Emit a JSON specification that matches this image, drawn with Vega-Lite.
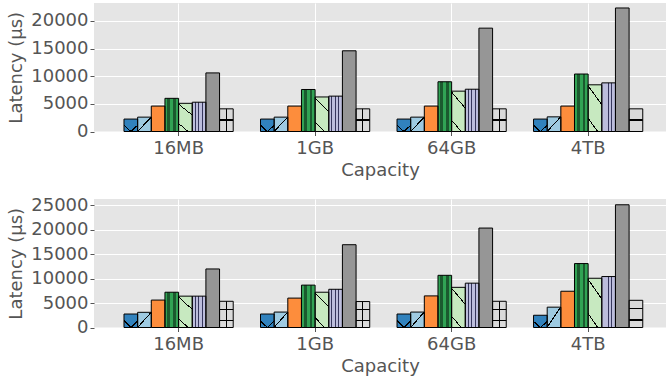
{
  "$schema": "https://vega.github.io/schema/vega-lite/v6.json",
  "padding": {"left": 7, "top": 3, "right": 0, "bottom": 0},
  "spacing": 16,
  "datasets": {
    "top": [
      {"capacity": "16MB", "series": "S1", "latency": 2250},
      {"capacity": "16MB", "series": "S2", "latency": 2600},
      {"capacity": "16MB", "series": "S3", "latency": 4600},
      {"capacity": "16MB", "series": "S4", "latency": 6000},
      {"capacity": "16MB", "series": "S5", "latency": 5100},
      {"capacity": "16MB", "series": "S6", "latency": 5300},
      {"capacity": "16MB", "series": "S7", "latency": 10600},
      {"capacity": "16MB", "series": "S8", "latency": 4100},
      {"capacity": "1GB", "series": "S1", "latency": 2250},
      {"capacity": "1GB", "series": "S2", "latency": 2600},
      {"capacity": "1GB", "series": "S3", "latency": 4600},
      {"capacity": "1GB", "series": "S4", "latency": 7600},
      {"capacity": "1GB", "series": "S5", "latency": 6250},
      {"capacity": "1GB", "series": "S6", "latency": 6400},
      {"capacity": "1GB", "series": "S7", "latency": 14600},
      {"capacity": "1GB", "series": "S8", "latency": 4100},
      {"capacity": "64GB", "series": "S1", "latency": 2250},
      {"capacity": "64GB", "series": "S2", "latency": 2600},
      {"capacity": "64GB", "series": "S3", "latency": 4600},
      {"capacity": "64GB", "series": "S4", "latency": 9000},
      {"capacity": "64GB", "series": "S5", "latency": 7300},
      {"capacity": "64GB", "series": "S6", "latency": 7650},
      {"capacity": "64GB", "series": "S7", "latency": 18700},
      {"capacity": "64GB", "series": "S8", "latency": 4100},
      {"capacity": "4TB", "series": "S1", "latency": 2250},
      {"capacity": "4TB", "series": "S2", "latency": 2650},
      {"capacity": "4TB", "series": "S3", "latency": 4600},
      {"capacity": "4TB", "series": "S4", "latency": 10400},
      {"capacity": "4TB", "series": "S5", "latency": 8450},
      {"capacity": "4TB", "series": "S6", "latency": 8800},
      {"capacity": "4TB", "series": "S7", "latency": 22350},
      {"capacity": "4TB", "series": "S8", "latency": 4100}
    ],
    "bottom": [
      {"capacity": "16MB", "series": "S1", "latency": 2750},
      {"capacity": "16MB", "series": "S2", "latency": 3100},
      {"capacity": "16MB", "series": "S3", "latency": 5600},
      {"capacity": "16MB", "series": "S4", "latency": 7200},
      {"capacity": "16MB", "series": "S5", "latency": 6400},
      {"capacity": "16MB", "series": "S6", "latency": 6400},
      {"capacity": "16MB", "series": "S7", "latency": 11950},
      {"capacity": "16MB", "series": "S8", "latency": 5350},
      {"capacity": "1GB", "series": "S1", "latency": 2750},
      {"capacity": "1GB", "series": "S2", "latency": 3150},
      {"capacity": "1GB", "series": "S3", "latency": 6000},
      {"capacity": "1GB", "series": "S4", "latency": 8650},
      {"capacity": "1GB", "series": "S5", "latency": 7200},
      {"capacity": "1GB", "series": "S6", "latency": 7800},
      {"capacity": "1GB", "series": "S7", "latency": 16900},
      {"capacity": "1GB", "series": "S8", "latency": 5300},
      {"capacity": "64GB", "series": "S1", "latency": 2750},
      {"capacity": "64GB", "series": "S2", "latency": 3150},
      {"capacity": "64GB", "series": "S3", "latency": 6450},
      {"capacity": "64GB", "series": "S4", "latency": 10650},
      {"capacity": "64GB", "series": "S5", "latency": 8200},
      {"capacity": "64GB", "series": "S6", "latency": 9050},
      {"capacity": "64GB", "series": "S7", "latency": 20300},
      {"capacity": "64GB", "series": "S8", "latency": 5350},
      {"capacity": "4TB", "series": "S1", "latency": 2500},
      {"capacity": "4TB", "series": "S2", "latency": 4150},
      {"capacity": "4TB", "series": "S3", "latency": 7400},
      {"capacity": "4TB", "series": "S4", "latency": 13050},
      {"capacity": "4TB", "series": "S5", "latency": 10050},
      {"capacity": "4TB", "series": "S6", "latency": 10400},
      {"capacity": "4TB", "series": "S7", "latency": 25050},
      {"capacity": "4TB", "series": "S8", "latency": 5550}
    ]
  },
  "vconcat": [
    {
      "width": 572,
      "height": 128.5,
      "data": {"name": "top"},
      "encoding": {
        "x": {"field": "capacity", "type": "nominal", "sort": ["16MB", "1GB", "64GB", "4TB"], "title": "Capacity",
              "scale": {"paddingInner": 0, "paddingOuter": 0.095, "align": 0.63},
              "axis": {"labelAngle": 0, "grid": true, "labelPadding": 4, "titlePadding": 4}},
        "xOffset": {"field": "series", "type": "nominal", "scale": {"paddingInner": 0, "paddingOuter": 1.29}},
        "y": {"field": "latency", "type": "quantitative", "title": "Latency (μs)",
              "scale": {"domain": [0, 23250], "nice": false},
              "axis": {"values": [0, 5000, 10000, 15000, 20000], "format": "d", "labelPadding": 2, "titlePadding": 5}}
      },
      "layer": [
        {"mark": {"type": "bar"},
         "encoding": {"fill": {"field": "series", "type": "nominal", "legend": null,
           "scale": {"domain": ["S1", "S2", "S3", "S4", "S5", "S6", "S7", "S8"],
                     "range": ["#3182bd", "#9ecae1", "#fd8d3c", "#31a354", "#c7e9c0", "#bcbddc", "#969696", "#dadada"]}}}},
        {"mark": {"type": "bar"},
         "encoding": {"fill": {"condition": [
            {"test": "datum.series === 'S1'", "value": {"gradient": "linear", "x1": 0, "y1": 0, "x2": 1, "y2": 1, "stops": [
              {"offset": 0, "color": "rgba(0,0,0,0)"}, {"offset": 0.72, "color": "rgba(0,0,0,0)"}, {"offset": 0.72, "color": "#000000"},
              {"offset": 0.78, "color": "#000000"}, {"offset": 0.78, "color": "rgba(0,0,0,0)"}, {"offset": 1, "color": "rgba(0,0,0,0)"}]}},
            {"test": "datum.series === 'S2'", "value": {"gradient": "linear", "x1": 0, "y1": 0, "x2": 1, "y2": 1, "stops": [
              {"offset": 0, "color": "rgba(0,0,0,0)"}, {"offset": 0.47, "color": "rgba(0,0,0,0)"}, {"offset": 0.47, "color": "#000000"},
              {"offset": 0.52, "color": "#000000"}, {"offset": 0.52, "color": "rgba(0,0,0,0)"}, {"offset": 1, "color": "rgba(0,0,0,0)"}]}},
            {"test": "datum.series === 'S4'", "value": {"gradient": "linear", "x1": 0, "y1": 0, "x2": 1, "y2": 0, "stops": [
              {"offset": 0, "color": "rgba(0,0,0,0)"}, {"offset": 0.18, "color": "rgba(0,0,0,0)"}, {"offset": 0.18, "color": "rgba(0,0,0,0.45)"},
              {"offset": 0.38, "color": "rgba(0,0,0,0.45)"}, {"offset": 0.38, "color": "rgba(0,0,0,0)"}, {"offset": 0.6, "color": "rgba(0,0,0,0)"},
              {"offset": 0.6, "color": "rgba(0,0,0,0.45)"}, {"offset": 0.8, "color": "rgba(0,0,0,0.45)"}, {"offset": 0.8, "color": "rgba(0,0,0,0)"},
              {"offset": 1, "color": "rgba(0,0,0,0)"}]}},
            {"test": "datum.series === 'S6'", "value": {"gradient": "linear", "x1": 0, "y1": 0, "x2": 1, "y2": 0, "stops": [
              {"offset": 0, "color": "rgba(0,0,0,0)"}, {"offset": 0.2, "color": "rgba(0,0,0,0)"}, {"offset": 0.2, "color": "rgba(20,20,60,0.8)"},
              {"offset": 0.26, "color": "rgba(20,20,60,0.8)"}, {"offset": 0.26, "color": "rgba(0,0,0,0)"}, {"offset": 0.45, "color": "rgba(0,0,0,0)"},
              {"offset": 0.45, "color": "rgba(20,20,60,0.8)"}, {"offset": 0.51, "color": "rgba(20,20,60,0.8)"}, {"offset": 0.51, "color": "rgba(0,0,0,0)"},
              {"offset": 0.7, "color": "rgba(0,0,0,0)"}, {"offset": 0.7, "color": "rgba(20,20,60,0.8)"}, {"offset": 0.76, "color": "rgba(20,20,60,0.8)"},
              {"offset": 0.76, "color": "rgba(0,0,0,0)"}, {"offset": 1, "color": "rgba(0,0,0,0)"}]}},
            {"test": "datum.series === 'S8'", "value": {"gradient": "linear", "x1": 0, "y1": 0, "x2": 1, "y2": 0, "stops": [
              {"offset": 0, "color": "rgba(0,0,0,0)"}, {"offset": 0.47, "color": "rgba(0,0,0,0)"}, {"offset": 0.47, "color": "#000000"},
              {"offset": 0.54, "color": "#000000"}, {"offset": 0.54, "color": "rgba(0,0,0,0)"}, {"offset": 1, "color": "rgba(0,0,0,0)"}]}}
          ], "value": "transparent"}}},
        {"mark": {"type": "bar", "stroke": "#000000", "strokeWidth": 1},
         "encoding": {"fill": {"condition": [
            {"test": "datum.series === 'S1'", "value": {"gradient": "linear", "x1": 1, "y1": 0, "x2": 0, "y2": 1, "stops": [
              {"offset": 0, "color": "rgba(0,0,0,0)"}, {"offset": 0.72, "color": "rgba(0,0,0,0)"}, {"offset": 0.72, "color": "#000000"},
              {"offset": 0.78, "color": "#000000"}, {"offset": 0.78, "color": "rgba(0,0,0,0)"}, {"offset": 1, "color": "rgba(0,0,0,0)"}]}},
            {"test": "datum.series === 'S5'", "value": {"gradient": "linear", "x1": 1, "y1": 0, "x2": 0.6, "y2": 1, "stops": [
              {"offset": 0, "color": "rgba(0,0,0,0)"}, {"offset": 0.35, "color": "rgba(0,0,0,0)"}, {"offset": 0.35, "color": "#000000"},
              {"offset": 0.38, "color": "#000000"}, {"offset": 0.38, "color": "rgba(0,0,0,0)"}, {"offset": 0.95, "color": "rgba(0,0,0,0)"},
              {"offset": 0.95, "color": "#000000"}, {"offset": 0.98, "color": "#000000"}, {"offset": 0.98, "color": "rgba(0,0,0,0)"},
              {"offset": 1, "color": "rgba(0,0,0,0)"}]}},
            {"test": "datum.series === 'S8'", "value": {"gradient": "linear", "x1": 0, "y1": 0, "x2": 0, "y2": 1, "stops": [
              {"offset": 0, "color": "rgba(0,0,0,0)"}, {"offset": 0.47, "color": "rgba(0,0,0,0)"}, {"offset": 0.47, "color": "#000000"},
              {"offset": 0.52, "color": "#000000"}, {"offset": 0.52, "color": "rgba(0,0,0,0)"}, {"offset": 1, "color": "rgba(0,0,0,0)"}]}}
          ], "value": "transparent"}}}
      ]
    },
    {
      "width": 572,
      "height": 128.5,
      "data": {"name": "bottom"},
      "encoding": {
        "x": {"field": "capacity", "type": "nominal", "sort": ["16MB", "1GB", "64GB", "4TB"], "title": "Capacity",
              "scale": {"paddingInner": 0, "paddingOuter": 0.095, "align": 0.63},
              "axis": {"labelAngle": 0, "grid": true, "labelPadding": 4, "titlePadding": 4}},
        "xOffset": {"field": "series", "type": "nominal", "scale": {"paddingInner": 0, "paddingOuter": 1.29}},
        "y": {"field": "latency", "type": "quantitative", "title": "Latency (μs)",
              "scale": {"domain": [0, 26230], "nice": false},
              "axis": {"values": [0, 5000, 10000, 15000, 20000, 25000], "format": "d", "labelPadding": 2, "titlePadding": 5}}
      },
      "layer": [
        {"mark": {"type": "bar"},
         "encoding": {"fill": {"field": "series", "type": "nominal", "legend": null,
           "scale": {"domain": ["S1", "S2", "S3", "S4", "S5", "S6", "S7", "S8"],
                     "range": ["#3182bd", "#9ecae1", "#fd8d3c", "#31a354", "#c7e9c0", "#bcbddc", "#969696", "#dadada"]}}}},
        {"mark": {"type": "bar"},
         "encoding": {"fill": {"condition": [
            {"test": "datum.series === 'S1'", "value": {"gradient": "linear", "x1": 0, "y1": 0, "x2": 1, "y2": 1, "stops": [
              {"offset": 0, "color": "rgba(0,0,0,0)"}, {"offset": 0.72, "color": "rgba(0,0,0,0)"}, {"offset": 0.72, "color": "#000000"},
              {"offset": 0.78, "color": "#000000"}, {"offset": 0.78, "color": "rgba(0,0,0,0)"}, {"offset": 1, "color": "rgba(0,0,0,0)"}]}},
            {"test": "datum.series === 'S2'", "value": {"gradient": "linear", "x1": 0, "y1": 0, "x2": 1, "y2": 1, "stops": [
              {"offset": 0, "color": "rgba(0,0,0,0)"}, {"offset": 0.47, "color": "rgba(0,0,0,0)"}, {"offset": 0.47, "color": "#000000"},
              {"offset": 0.52, "color": "#000000"}, {"offset": 0.52, "color": "rgba(0,0,0,0)"}, {"offset": 1, "color": "rgba(0,0,0,0)"}]}},
            {"test": "datum.series === 'S4'", "value": {"gradient": "linear", "x1": 0, "y1": 0, "x2": 1, "y2": 0, "stops": [
              {"offset": 0, "color": "rgba(0,0,0,0)"}, {"offset": 0.18, "color": "rgba(0,0,0,0)"}, {"offset": 0.18, "color": "rgba(0,0,0,0.45)"},
              {"offset": 0.38, "color": "rgba(0,0,0,0.45)"}, {"offset": 0.38, "color": "rgba(0,0,0,0)"}, {"offset": 0.6, "color": "rgba(0,0,0,0)"},
              {"offset": 0.6, "color": "rgba(0,0,0,0.45)"}, {"offset": 0.8, "color": "rgba(0,0,0,0.45)"}, {"offset": 0.8, "color": "rgba(0,0,0,0)"},
              {"offset": 1, "color": "rgba(0,0,0,0)"}]}},
            {"test": "datum.series === 'S6'", "value": {"gradient": "linear", "x1": 0, "y1": 0, "x2": 1, "y2": 0, "stops": [
              {"offset": 0, "color": "rgba(0,0,0,0)"}, {"offset": 0.2, "color": "rgba(0,0,0,0)"}, {"offset": 0.2, "color": "rgba(20,20,60,0.8)"},
              {"offset": 0.26, "color": "rgba(20,20,60,0.8)"}, {"offset": 0.26, "color": "rgba(0,0,0,0)"}, {"offset": 0.45, "color": "rgba(0,0,0,0)"},
              {"offset": 0.45, "color": "rgba(20,20,60,0.8)"}, {"offset": 0.51, "color": "rgba(20,20,60,0.8)"}, {"offset": 0.51, "color": "rgba(0,0,0,0)"},
              {"offset": 0.7, "color": "rgba(0,0,0,0)"}, {"offset": 0.7, "color": "rgba(20,20,60,0.8)"}, {"offset": 0.76, "color": "rgba(20,20,60,0.8)"},
              {"offset": 0.76, "color": "rgba(0,0,0,0)"}, {"offset": 1, "color": "rgba(0,0,0,0)"}]}},
            {"test": "datum.series === 'S8'", "value": {"gradient": "linear", "x1": 0, "y1": 0, "x2": 1, "y2": 0, "stops": [
              {"offset": 0, "color": "rgba(0,0,0,0)"}, {"offset": 0.47, "color": "rgba(0,0,0,0)"}, {"offset": 0.47, "color": "#000000"},
              {"offset": 0.54, "color": "#000000"}, {"offset": 0.54, "color": "rgba(0,0,0,0)"}, {"offset": 1, "color": "rgba(0,0,0,0)"}]}}
          ], "value": "transparent"}}},
        {"mark": {"type": "bar", "stroke": "#000000", "strokeWidth": 1},
         "encoding": {"fill": {"condition": [
            {"test": "datum.series === 'S1'", "value": {"gradient": "linear", "x1": 1, "y1": 0, "x2": 0, "y2": 1, "stops": [
              {"offset": 0, "color": "rgba(0,0,0,0)"}, {"offset": 0.72, "color": "rgba(0,0,0,0)"}, {"offset": 0.72, "color": "#000000"},
              {"offset": 0.78, "color": "#000000"}, {"offset": 0.78, "color": "rgba(0,0,0,0)"}, {"offset": 1, "color": "rgba(0,0,0,0)"}]}},
            {"test": "datum.series === 'S5'", "value": {"gradient": "linear", "x1": 1, "y1": 0, "x2": 0.6, "y2": 1, "stops": [
              {"offset": 0, "color": "rgba(0,0,0,0)"}, {"offset": 0.35, "color": "rgba(0,0,0,0)"}, {"offset": 0.35, "color": "#000000"},
              {"offset": 0.38, "color": "#000000"}, {"offset": 0.38, "color": "rgba(0,0,0,0)"}, {"offset": 0.95, "color": "rgba(0,0,0,0)"},
              {"offset": 0.95, "color": "#000000"}, {"offset": 0.98, "color": "#000000"}, {"offset": 0.98, "color": "rgba(0,0,0,0)"},
              {"offset": 1, "color": "rgba(0,0,0,0)"}]}},
            {"test": "datum.series === 'S8'", "value": {"gradient": "linear", "x1": 0, "y1": 0, "x2": 0, "y2": 1, "stops": [
              {"offset": 0, "color": "rgba(0,0,0,0)"}, {"offset": 0.28, "color": "rgba(0,0,0,0)"}, {"offset": 0.28, "color": "#000000"},
              {"offset": 0.33, "color": "#000000"}, {"offset": 0.33, "color": "rgba(0,0,0,0)"}, {"offset": 0.7, "color": "rgba(0,0,0,0)"},
              {"offset": 0.7, "color": "#000000"}, {"offset": 0.75, "color": "#000000"}, {"offset": 0.75, "color": "rgba(0,0,0,0)"},
              {"offset": 1, "color": "rgba(0,0,0,0)"}]}}
          ], "value": "transparent"}}}
      ]
    }
  ],
  "config": {
    "font": "DejaVu Sans",
    "view": {"fill": "#E5E5E5", "stroke": null},
    "axis": {
      "labelFont": "DejaVu Sans", "titleFont": "DejaVu Sans",
      "labelFontSize": 18, "titleFontSize": 18, "titleFontWeight": "normal",
      "labelColor": "#555555", "titleColor": "#555555",
      "tickColor": "#555555", "tickSize": 4, "tickWidth": 1,
      "domain": false, "gridColor": "#FFFFFF", "gridWidth": 1
    }
  }
}
